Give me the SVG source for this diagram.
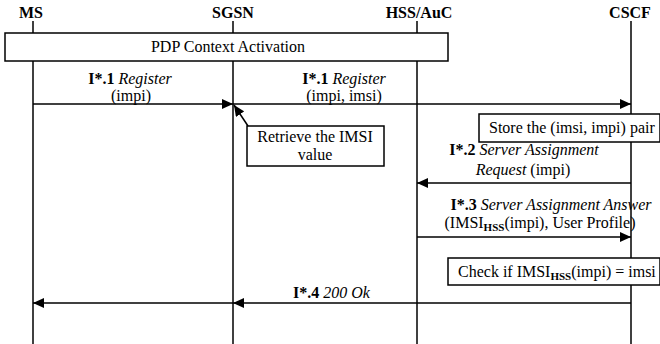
<svg xmlns="http://www.w3.org/2000/svg" width="660" height="344" viewBox="0 0 660 344" font-family="'Liberation Serif', 'DejaVu Serif', serif">
<style>
text{font-family:"Liberation Serif","DejaVu Serif",serif;font-size:16px;fill:#000}
.h{font-weight:bold}
.b{font-weight:bold}
.i{font-style:italic}
.m{text-anchor:middle}
.life{stroke:#000;stroke-width:1.5;fill:none}
.msg{stroke:#000;stroke-width:1.5;fill:none}
.box{fill:#fff;stroke:#000;stroke-width:1.5}
.sub{font-size:11px;font-weight:bold}
</style>
<defs>
<marker id="ah" markerWidth="11" markerHeight="10" refX="11" refY="5" orient="auto" markerUnits="userSpaceOnUse">
<path d="M0,0 L11,5 L0,10 z" fill="#000"/>
</marker>
</defs>
<rect width="660" height="344" fill="#fff"/>
<g id="MS"><text class="h m" x="31" y="18">MS</text><line class="life" x1="33" y1="21" x2="33" y2="344"/></g>
<g id="SGSN"><text class="h m" x="233" y="18">SGSN</text><line class="life" x1="233" y1="21" x2="233" y2="344"/></g>
<g id="HSS"><text class="h m" x="419" y="18">HSS/AuC</text><line class="life" x1="417" y1="21" x2="417" y2="344"/></g>
<g id="CSCF"><text class="h m" x="630" y="18">CSCF</text><line class="life" x1="631" y1="21" x2="631" y2="344"/></g>
<g id="pdp"><rect class="box" x="5" y="33" width="443" height="28"/><text class="m" x="228" y="52">PDP Context Activation</text></g>
<g id="retrieve"><rect class="box" x="247" y="126" width="137" height="40"/><text class="m" x="315" y="142">Retrieve the IMSI</text><text class="m" x="315" y="160">value</text></g>
<g id="store"><rect class="box" x="479" y="114" width="181" height="28"/><text x="489" y="133">Store the (imsi, impi) pair</text></g>
<g id="check"><rect class="box" x="448" y="258" width="212" height="27"/><text x="458" y="277">Check if IMSI<tspan class="sub" dy="3">HSS</tspan><tspan dy="-3">(impi) = imsi</tspan></text></g>
<g id="connectors">
<line class="msg" x1="33" y1="104" x2="233" y2="104" marker-end="url(#ah)"/>
<line class="msg" x1="233" y1="104" x2="631" y2="104" marker-end="url(#ah)"/>
<line class="msg" x1="248" y1="126" x2="234" y2="105" marker-end="url(#ah)"/>
<line class="msg" x1="631" y1="183" x2="417" y2="183" marker-end="url(#ah)"/>
<line class="msg" x1="417" y1="237" x2="631" y2="237" marker-end="url(#ah)"/>
<line class="msg" x1="631" y1="303" x2="233" y2="303" marker-end="url(#ah)"/>
<line class="msg" x1="233" y1="303" x2="33" y2="303" marker-end="url(#ah)"/>
<text class="m" x="130" y="84"><tspan class="b">I*.1</tspan> <tspan class="i">Register</tspan></text>
<text class="m" x="131" y="101">(impi)</text>
<text class="m" x="344" y="84"><tspan class="b">I*.1</tspan> <tspan class="i">Register</tspan></text>
<text class="m" x="344" y="101">(impi, imsi)</text>
<text class="m" x="524" y="155"><tspan class="b">I*.2</tspan> <tspan class="i">Server Assignment</tspan></text>
<text class="m" x="523" y="175"><tspan class="i">Request</tspan> (impi)</text>
<text class="m" x="551" y="210"><tspan class="b">I*.3</tspan> <tspan class="i">Server Assignment Answer</tspan></text>
<text class="m" x="540" y="228">(IMSI<tspan class="sub" dy="3">HSS</tspan><tspan dy="-3">(impi), User Profile)</tspan></text>
<text x="293" y="298"><tspan class="b">I*.4</tspan> <tspan class="i">200 Ok</tspan></text>
</g>
</svg>
